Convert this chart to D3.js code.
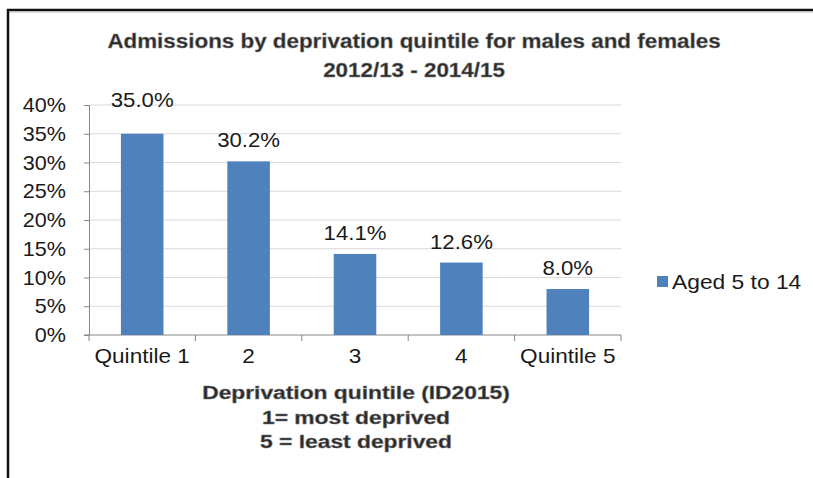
<!DOCTYPE html>
<html>
<head>
<meta charset="utf-8">
<script src="https://cdn.jsdelivr.net/npm/d3@7/dist/d3.min.js"></script>
<style>
  html, body { margin: 0; padding: 0; background: #fff; }
  svg { display: block; }
  text { font-family: "Liberation Sans", Arial, sans-serif; }
</style>
</head>
<body>
<svg id="chart" width="813" height="478"></svg>
<script>
// Admissions share by deprivation quintile, ages 5 to 14
const categories = ["Quintile 1", "2", "3", "4", "Quintile 5"];
const values = [35.0, 30.2, 14.1, 12.6, 8.0];
const yTicks = [0, 5, 10, 15, 20, 25, 30, 35, 40];
const seriesName = "Aged 5 to 14";
const titleLines = ["Admissions by deprivation quintile for males and females", "2012/13 - 2014/15"];
const axisTitleLines = ["Deprivation quintile  (ID2015)", "1= most deprived", "5 = least deprived"];

const svg = d3.select("#chart");
const W = 813, H = 478;
const plot = { left: 89, right: 621, top: 105, bottom: 335 };
const barColor = "#4f81bd";
const textColor = "#1a1a1a";
const sx = 1.1; // horizontal stretch applied to glyphs

// frame lines (top and left)
svg.append("line").attr("x1", 7).attr("x2", W).attr("y1", 10).attr("y2", 10)
  .attr("stroke", "#111").attr("stroke-width", 2.5);
svg.append("line").attr("x1", 8).attr("x2", 8).attr("y1", 9).attr("y2", H)
  .attr("stroke", "#111").attr("stroke-width", 2.5);
svg.append("line").attr("x1", 9.5).attr("x2", W).attr("y1", 12).attr("y2", 12)
  .attr("stroke", "#bbb").attr("stroke-width", 1);

const x = d3.scaleBand().domain(categories).range([plot.left, plot.right]).paddingInner(0.6).paddingOuter(0.3);
const y = d3.scaleLinear().domain([0, 40]).range([plot.bottom, plot.top]);

function stretchedText(g, tx, ty, str, opts) {
  const t = g.append("text")
    .attr("transform", `translate(${tx},${ty}) scale(${opts.scale || sx},1)`)
    .attr("text-anchor", opts.anchor || "middle")
    .attr("font-size", opts.size)
    .attr("fill", opts.fill || textColor)
    .text(str);
  if (opts.weight) t.attr("font-weight", opts.weight);
  if (opts.stroke) t.attr("stroke", opts.stroke).attr("stroke-width", opts.strokeWidth || 0.6);
  if (opts.dy) t.attr("dy", opts.dy);
  return t;
}

// gridlines
svg.append("g").selectAll("line").data(yTicks.filter(d => d > 0)).join("line")
  .attr("x1", plot.left).attr("x2", plot.right)
  .attr("y1", d => y(d)).attr("y2", d => y(d))
  .attr("stroke", "#d9d9d9").attr("stroke-width", 1);

// y axis
const yAxis = svg.append("g").attr("transform", `translate(${plot.left},0)`)
  .call(d3.axisLeft(y).tickValues(yTicks).tickSize(5).tickFormat(""));
yAxis.select(".domain").attr("stroke", "#868686");
yAxis.selectAll(".tick line").attr("stroke", "#868686");
const yLab = svg.append("g");
yTicks.forEach(t => {
  stretchedText(yLab, 66, y(t), t + "%", { anchor: "end", size: 20, scale: 1.08, dy: "0.36em" });
});

// x axis with ticks at category boundaries
const bounds = d3.range(categories.length + 1).map(i => plot.left + i * (plot.right - plot.left) / categories.length);
const xAxis = svg.append("g");
xAxis.append("line").attr("x1", plot.left - 5).attr("x2", plot.right)
  .attr("y1", plot.bottom).attr("y2", plot.bottom).attr("stroke", "#868686");
xAxis.selectAll("line.tk").data(bounds).join("line").attr("class", "tk")
  .attr("x1", d => d).attr("x2", d => d).attr("y1", plot.bottom).attr("y2", plot.bottom + 6)
  .attr("stroke", "#868686");
categories.forEach(c => {
  stretchedText(xAxis, x(c) + x.bandwidth() / 2, 363, c, { size: 20, scale: 1.13 });
});

// bars
svg.append("g").selectAll("rect").data(values).join("rect")
  .attr("x", (d, i) => x(categories[i]))
  .attr("width", x.bandwidth())
  .attr("y", d => y(d))
  .attr("height", d => y(0) - y(d))
  .attr("fill", barColor);

// value labels
const vmax = d3.max(values);
const labels = svg.append("g");
values.forEach((v, i) => {
  const ly = v === vmax ? y(40) + 2 : y(v) - 14;
  stretchedText(labels, x(categories[i]) + x.bandwidth() / 2, ly, v.toFixed(1) + "%", { size: 20, scale: 1.11 });
});

// chart title
const cx = 414;
stretchedText(svg, cx, 48, titleLines[0], { size: 20, scale: 1.12, weight: "bold", fill: "#2a2a2a", stroke: "#888", strokeWidth: 0.5 });
stretchedText(svg, cx, 77, titleLines[1], { size: 20, scale: 1.12, weight: "bold", fill: "#2a2a2a", stroke: "#888", strokeWidth: 0.5 });

// x axis title
const ax = 356;
axisTitleLines.forEach((s, i) => {
  stretchedText(svg, ax, 399 + i * 24.5, s, { size: 19, scale: 1.2, weight: "bold", fill: "#2a2a2a", stroke: "#777", strokeWidth: 0.5 });
});

// legend
const lg = svg.append("g");
lg.append("rect").attr("x", 657).attr("y", 276).attr("width", 11).attr("height", 11).attr("fill", barColor);
stretchedText(lg, 672, 289, seriesName, { anchor: "start", size: 20, scale: 1.14 });
</script>
</body>
</html>
